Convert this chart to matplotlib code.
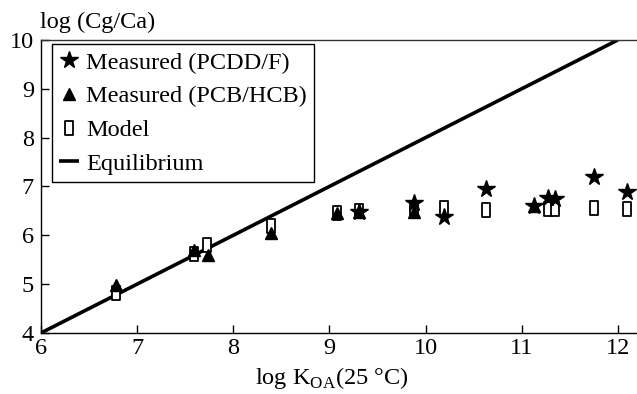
import matplotlib
matplotlib.use('Agg')
import matplotlib.pyplot as plt
from matplotlib.path import Path

plt.rcParams['font.family'] = ['Liberation Serif', 'DejaVu Serif']
plt.rcParams['mathtext.fontset'] = 'custom'
plt.rcParams['mathtext.rm'] = 'Liberation Serif'

# measured PCDD/F
pcdd_x = [9.31, 9.88, 10.19, 10.63, 11.13, 11.27, 11.35, 11.75, 12.1]
pcdd_y = [6.48, 6.66, 6.38, 6.95, 6.60, 6.77, 6.75, 7.20, 6.89]

# measured PCB/HCB
pcb_x = [6.78, 7.59, 7.74, 8.39, 9.08, 9.31, 9.88, 11.13]
pcb_y = [4.98, 5.70, 5.60, 6.05, 6.46, 6.47, 6.48, 6.60]

# model
model_x = [6.78, 7.59, 7.73, 8.39, 9.08, 9.31, 9.88, 10.19, 10.63, 11.27, 11.35, 11.75, 12.1]
model_y = [4.82, 5.62, 5.80, 6.20, 6.45, 6.50, 6.55, 6.56, 6.52, 6.54, 6.54, 6.56, 6.54]

# equilibrium line
eq_x = [6, 12]
eq_y = [4, 10]

FS = 17.5

rect = Path([(-0.6, -1), (0.6, -1), (0.6, 1), (-0.6, 1), (-0.6, -1)],
            [Path.MOVETO, Path.LINETO, Path.LINETO, Path.LINETO, Path.CLOSEPOLY])

fig = plt.figure(figsize=(6.37, 3.94), dpi=100)
ax = fig.add_axes([0.0644, 0.155, 0.9356, 0.7435])

ax.plot(eq_x, eq_y, color='black', lw=2.6, solid_capstyle='butt', label='Equilibrium', zorder=2)
ax.plot(model_x, model_y, ls='none', marker=rect, ms=9.5, mfc='white', mec='black',
        mew=1.3, label='Model', zorder=3)
ax.plot(pcb_x, pcb_y, ls='none', marker='^', ms=9, color='black',
        label='Measured (PCB/HCB)', zorder=4)
ax.plot(pcdd_x, pcdd_y, ls='none', marker='*', ms=13, color='black',
        label='Measured (PCDD/F)', zorder=5)

ax.set_xlim(6, 12.2)
ax.set_ylim(4, 10)
ax.set_xticks([6, 7, 8, 9, 10, 11, 12])
ax.set_yticks([4, 5, 6, 7, 8, 9, 10])
ax.tick_params(direction='in', length=6, width=1, labelsize=FS, pad=4)
ax.tick_params(axis='y', pad=5)

ax.spines['right'].set_visible(False)
ax.spines['top'].set_color('#333333')
ax.spines['top'].set_linewidth(1.0)
for s in ['left', 'bottom']:
    ax.spines[s].set_linewidth(1.0)
    ax.spines[s].set_color('black')

fig.text(0.063, 0.944, 'log (Cg/Ca)', fontsize=FS, ha='left', va='center')
fig.text(0.52, 0.04, r'log K$_{\mathrm{OA}}$(25 °C)', fontsize=FS, ha='center', va='center')

handles, labels = ax.get_legend_handles_labels()
order = [3, 2, 1, 0]
leg = ax.legend([handles[i] for i in order], [labels[i] for i in order],
                loc='upper left', bbox_to_anchor=(0.014, 0.993), fontsize=FS,
                frameon=True, fancybox=False, edgecolor='black', framealpha=1,
                handlelength=0.8, handletextpad=0.3, borderpad=0.3,
                labelspacing=0.48, borderaxespad=0.1)
leg.get_frame().set_linewidth(1.0)

fig.savefig('out.png', dpi=100, facecolor='white')
